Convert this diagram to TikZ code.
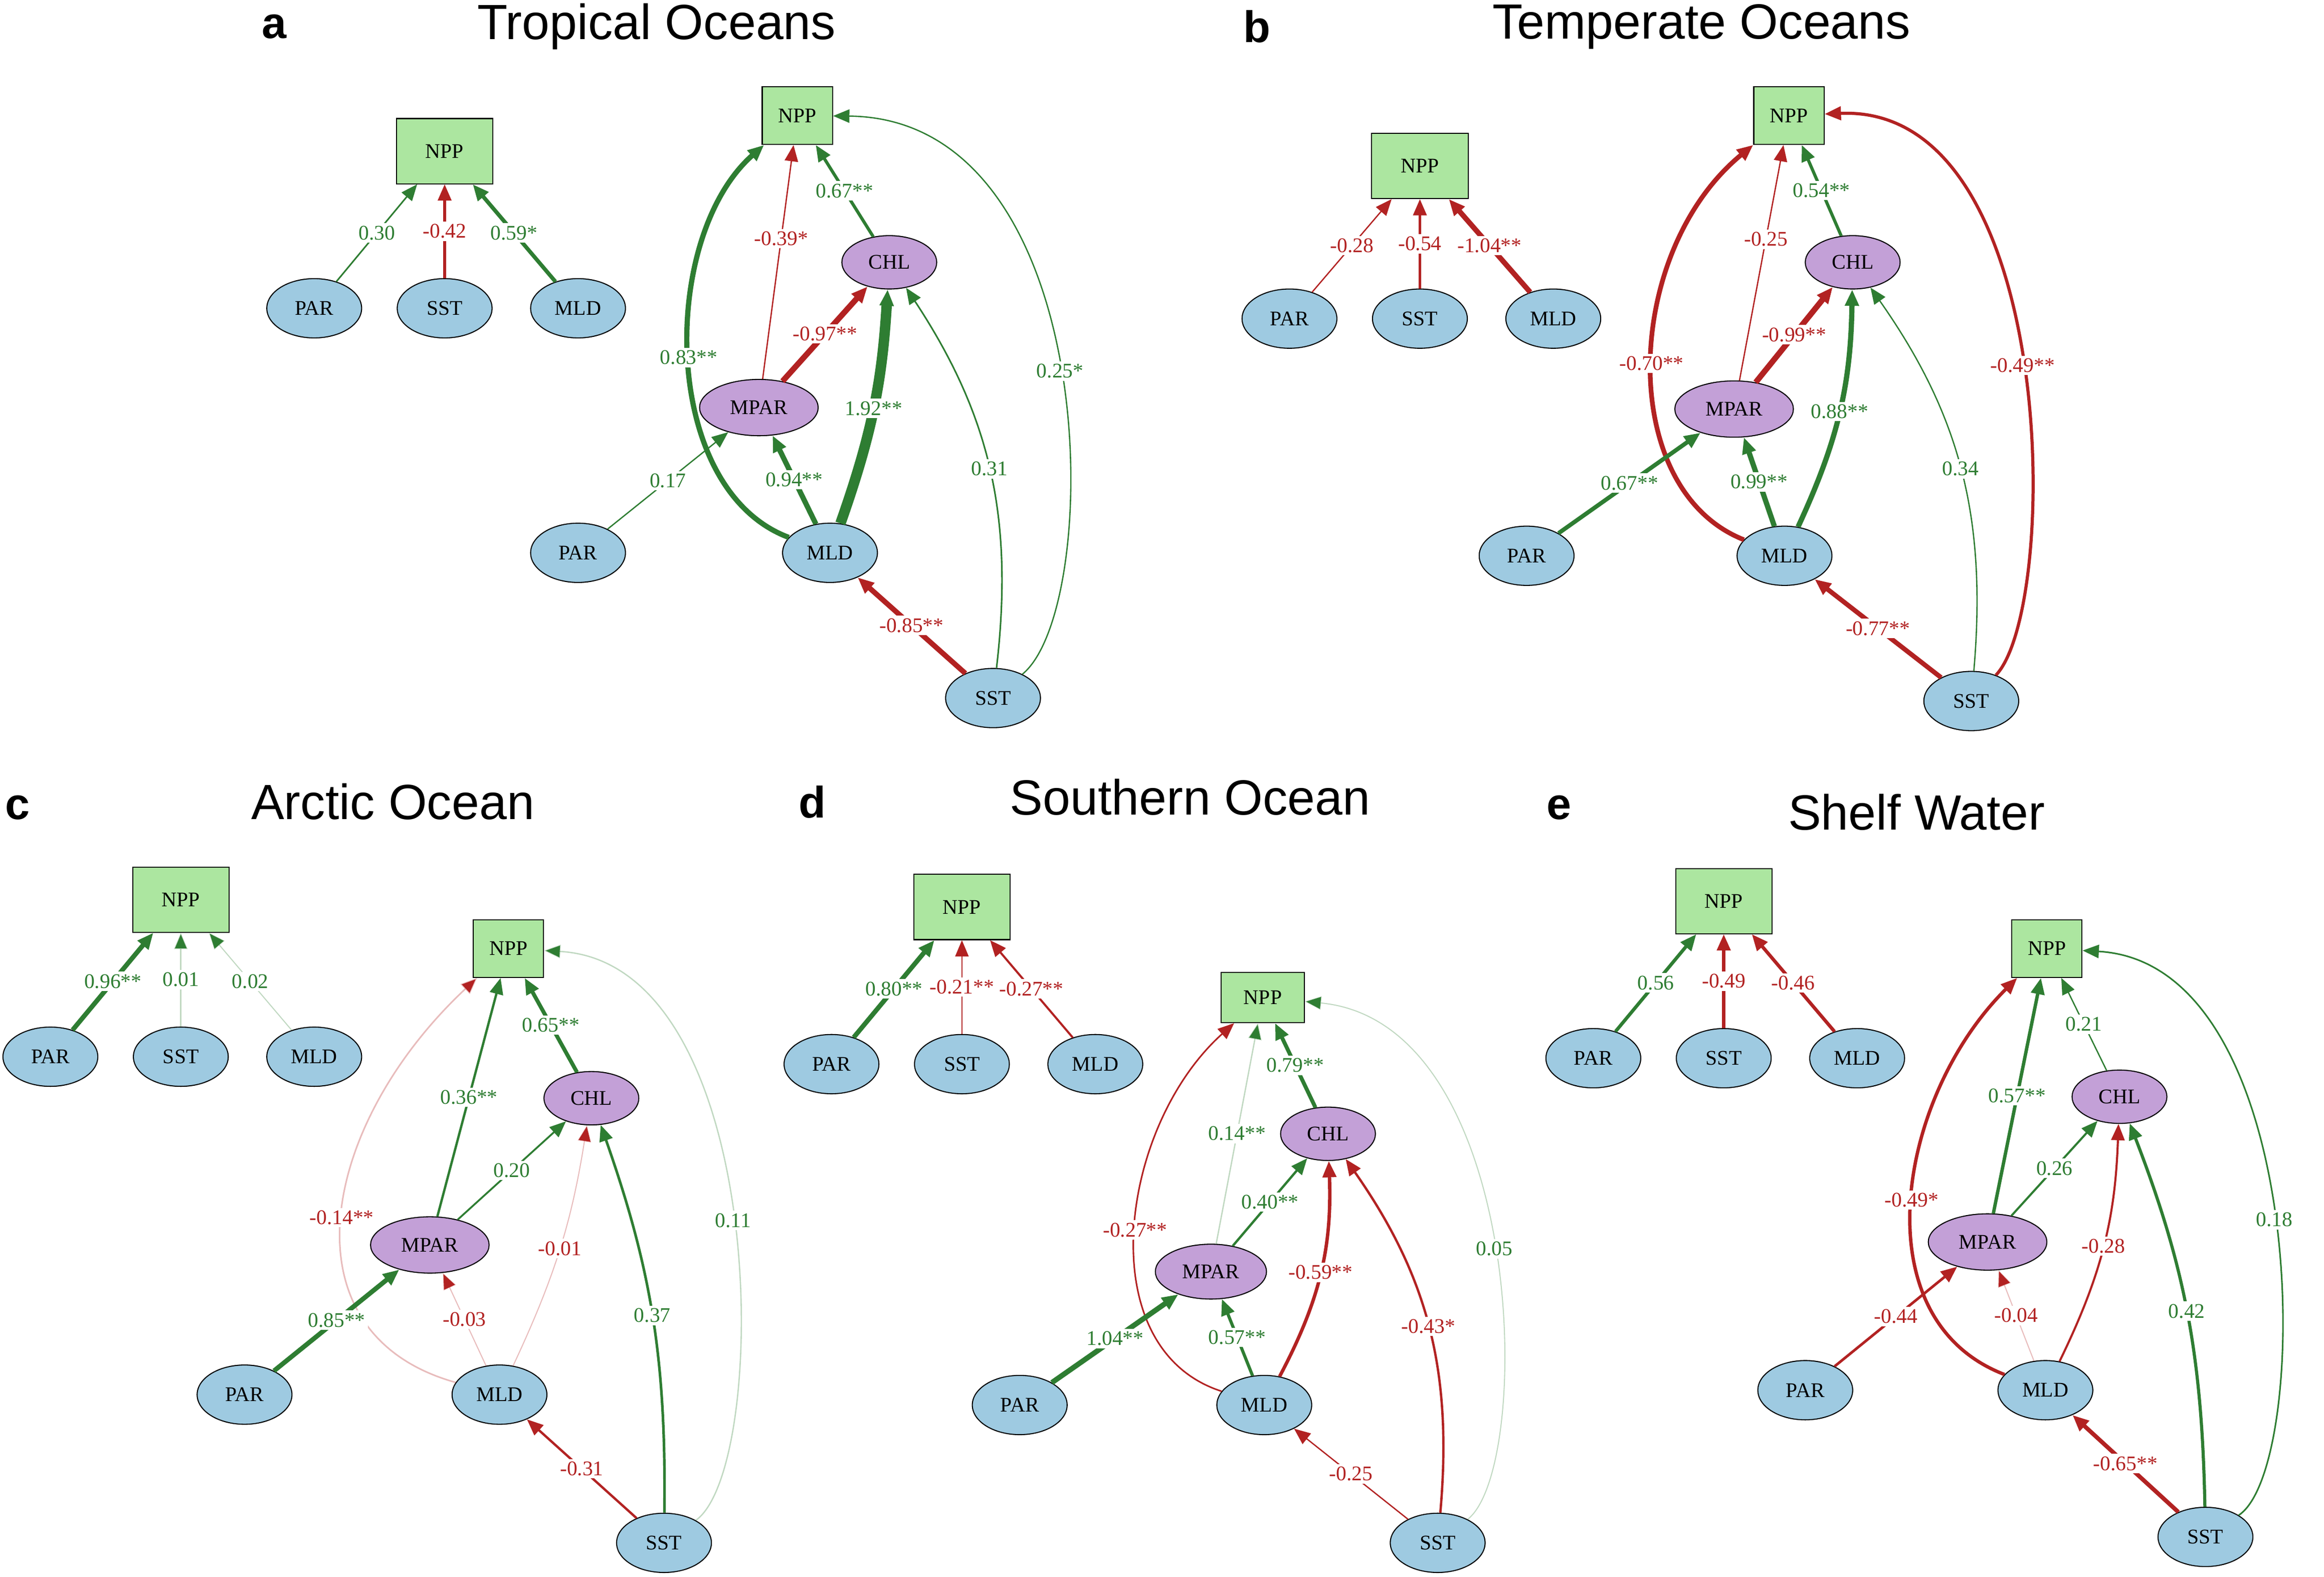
\documentclass[tikz,border=0pt]{standalone}
\usepackage{fontspec}
\setmainfont{Liberation Serif}
\newfontfamily\titlefont{Liberation Sans}
\usetikzlibrary{arrows.meta,shapes.geometric}
\definecolor{posc}{RGB}{46,125,50}
\definecolor{negc}{RGB}{178,34,34}
\definecolor{envc}{RGB}{158,202,225}
\definecolor{bioc}{RGB}{195,160,215}
\definecolor{nppc}{RGB}{172,230,160}
\tikzset{
  env/.style={ellipse,draw,fill=envc,minimum width=1.28cm,minimum height=0.8cm,inner sep=0pt,font=\footnotesize},
  bio/.style={ellipse,draw,fill=bioc,minimum width=1.28cm,minimum height=0.72cm,inner sep=0pt,font=\footnotesize},
  npp/.style={rectangle,draw,fill=nppc,minimum width=0.95cm,minimum height=0.78cm,inner sep=0pt,font=\footnotesize},
  gp/.style={draw=posc,text=posc,-{Triangle[length=0.22cm,width=0.18cm]}},
  rn/.style={draw=negc,text=negc,-{Triangle[length=0.22cm,width=0.18cm]}},
  lab/.style={fill=white,inner sep=1pt,font=\footnotesize,pos=0.5},
  ttl/.style={font=\titlefont\fontsize{19}{22}\selectfont},
  let/.style={font=\titlefont\bfseries\fontsize{17}{20}\selectfont},
  faint/.style={draw opacity=0.3}
}
\begin{document}
\begin{tikzpicture}[x=0.02cm,y=-0.02cm]
\useasboundingbox (0,0) rectangle (1568,1064);

% titles
\node[let] (la) at (185,18) {a};
\node[ttl] (ta) at (443,18) {Tropical Oceans};
\node[let] (lb) at (848,18) {b};
\node[ttl] (tb) at (1148,18) {Temperate Oceans};
\node[let] (lc) at (12,545) {c};
\node[ttl] (tc) at (265,541) {Arctic Ocean};
\node[let] (ld) at (548,541) {d};
\node[ttl] (td) at (803,538) {Southern Ocean};
\node[let] (le) at (1052,545) {e};
\node[ttl] (te) at (1293,548) {Shelf Water};

% total effects (left models)
\foreach \n/\x/\y/\t in {a/300/102/208, b/958/112/215, c/122/607/713, d/649/612/718, e/1163/608/714}{
  \node[npp,minimum width=1.3cm,minimum height=0.88cm] (\n1npp) at (\x,\y) {NPP};
  \node[env] (\n1par) at (\x-88,\t) {PAR};
  \node[env] (\n1sst) at (\x,\t) {SST};
  \node[env] (\n1mld) at (\x+90,\t) {MLD};
}
\draw[gp,line width=0.6pt] (a1par) -- node[lab]{0.30} (a1npp);
\draw[rn,line width=1pt] (a1sst) -- node[lab]{-0.42} (a1npp);
\draw[gp,line width=1.5pt] (a1mld) -- node[lab]{0.59*} (a1npp);
\draw[rn,line width=0.5pt] (b1par) -- node[lab]{-0.28} (b1npp);
\draw[rn,line width=1pt] (b1sst) -- node[lab]{-0.54} (b1npp);
\draw[rn,line width=2pt] (b1mld) -- node[lab]{-1.04**} (b1npp);
\draw[gp,line width=1.8pt] (c1par) -- node[lab]{0.96**} (c1npp);
\draw[gp,line width=0.5pt,faint] (c1sst) -- node[lab]{0.01} (c1npp);
\draw[gp,line width=0.4pt,faint] (c1mld) -- node[lab]{0.02} (c1npp);
\draw[gp,line width=1.8pt] (d1par) -- node[lab]{0.80**} (d1npp);
\draw[rn,line width=0.5pt] (d1sst) -- node[lab]{-0.21**} (d1npp);
\draw[rn,line width=0.8pt] (d1mld) -- node[lab]{-0.27**} (d1npp);
\draw[gp,line width=1.3pt] (e1par) -- node[lab]{0.56} (e1npp);
\draw[rn,line width=1.3pt] (e1sst) -- node[lab]{-0.49} (e1npp);
\draw[rn,line width=1.3pt] (e1mld) -- node[lab]{-0.46} (e1npp);

% path models (right)
\node[npp] (a2npp) at (538,78) {NPP};
\node[bio] (a2chl) at (600,177) {CHL};
\node[bio,minimum width=1.6cm,minimum height=0.76cm] (a2mpar) at (512,275) {MPAR};
\node[env] (a2par) at (390,373) {PAR};
\node[env] (a2mld) at (560,373) {MLD};
\node[env] (a2sst) at (670,471) {SST};
\draw[gp,line width=1.2pt] (a2chl) -- node[lab]{0.67**} (a2npp);
\draw[rn,line width=0.5pt] (a2mpar) -- node[lab,pos=0.6]{-0.39*} (a2npp);
\draw[rn,line width=2.2pt] (a2mpar) -- node[lab]{-0.97**} (a2chl);
\draw[gp,line width=2pt] (a2mld) .. controls (445,330) and (445,160) .. node[lab]{0.83**} (a2npp);
\draw[gp,line width=4pt] (a2mld) to[bend right=8] node[lab]{1.92**} (a2chl);
\draw[gp,line width=2pt] (a2mld) -- node[lab]{0.94**} (a2mpar);
\draw[gp,line width=0.5pt] (a2par) -- node[lab]{0.17} (a2mpar);
\draw[gp,line width=0.6pt] (a2sst) to[bend right=20] node[lab]{0.31} (a2chl);
\draw[gp,line width=0.5pt] (a2sst) .. controls (745,410) and (745,80) .. node[lab]{0.25*} (a2npp);
\draw[rn,line width=2pt] (a2sst) -- node[lab]{-0.85**} (a2mld);

\node[npp] (b2npp) at (1207,78) {NPP};
\node[bio] (b2chl) at (1250,177) {CHL};
\node[bio,minimum width=1.6cm,minimum height=0.76cm] (b2mpar) at (1170,276) {MPAR};
\node[env] (b2par) at (1030,375) {PAR};
\node[env] (b2mld) at (1204,375) {MLD};
\node[env] (b2sst) at (1330,473) {SST};
\draw[gp,line width=1.2pt] (b2chl) -- node[lab]{0.54**} (b2npp);
\draw[rn,line width=0.5pt] (b2mpar) -- node[lab,pos=0.6]{-0.25} (b2npp);
\draw[rn,line width=2.2pt] (b2mpar) -- node[lab]{-0.99**} (b2chl);
\draw[rn,line width=1.8pt] (b2mld) .. controls (1090,330) and (1095,170) .. node[lab]{-0.70**} (b2npp);
\draw[gp,line width=2pt] (b2mld) to[bend right=12] node[lab]{0.88**} (b2chl);
\draw[gp,line width=2pt] (b2mld) -- node[lab]{0.99**} (b2mpar);
\draw[gp,line width=1.6pt] (b2par) -- node[lab]{0.67**} (b2mpar);
\draw[gp,line width=0.5pt] (b2sst) to[bend right=20] node[lab]{0.34} (b2chl);
\draw[rn,line width=1.2pt] (b2sst) .. controls (1390,410) and (1390,70) .. node[lab]{-0.49**} (b2npp);
\draw[rn,line width=1.8pt] (b2sst) -- node[lab]{-0.77**} (b2mld);

\node[npp] (c2npp) at (343,640) {NPP};
\node[bio] (c2chl) at (399,741) {CHL};
\node[bio,minimum width=1.6cm,minimum height=0.76cm] (c2mpar) at (290,840) {MPAR};
\node[env] (c2par) at (165,941) {PAR};
\node[env] (c2mld) at (337,941) {MLD};
\node[env] (c2sst) at (448,1041) {SST};
\draw[gp,line width=1.5pt] (c2chl) -- node[lab]{0.65**} (c2npp);
\draw[gp,line width=0.9pt] (c2mpar) -- node[lab]{0.36**} (c2npp);
\draw[gp,line width=0.7pt] (c2mpar) -- node[lab]{0.20} (c2chl);
\draw[rn,line width=0.6pt,faint] (c2mld) .. controls (190,900) and (215,760) .. node[lab]{-0.14**} (c2npp);
\draw[rn,line width=0.4pt,faint] (c2mld) to[bend right=8] node[lab]{-0.01} (c2chl);
\draw[rn,line width=0.4pt,faint] (c2mld) -- node[lab]{-0.03} (c2mpar);
\draw[gp,line width=1.8pt] (c2par) -- node[lab]{0.85**} (c2mpar);
\draw[gp,line width=1pt] (c2sst) to[bend right=10] node[lab]{0.37} (c2chl);
\draw[gp,line width=0.5pt,faint] (c2sst) .. controls (520,990) and (520,650) .. node[lab]{0.11} (c2npp);
\draw[rn,line width=0.9pt] (c2sst) -- node[lab]{-0.31} (c2mld);

\node[npp,minimum width=1.12cm,minimum height=0.68cm] (d2npp) at (852,673) {NPP};
\node[bio] (d2chl) at (896,765) {CHL};
\node[bio,minimum width=1.5cm,minimum height=0.74cm] (d2mpar) at (817,858) {MPAR};
\node[env] (d2par) at (688,948) {PAR};
\node[env] (d2mld) at (853,948) {MLD};
\node[env] (d2sst) at (970,1041) {SST};
\draw[gp,line width=1.5pt] (d2chl) -- node[lab]{0.79**} (d2npp);
\draw[gp,line width=0.5pt,faint] (d2mpar) -- node[lab]{0.14**} (d2npp);
\draw[gp,line width=0.9pt] (d2mpar) -- node[lab]{0.40**} (d2chl);
\draw[rn,line width=0.6pt] (d2mld) .. controls (735,910) and (755,760) .. node[lab]{-0.27**} (d2npp);
\draw[rn,line width=1.3pt] (d2mld) to[bend right=15] node[lab]{-0.59**} (d2chl);
\draw[gp,line width=1.2pt] (d2mld) -- node[lab]{0.57**} (d2mpar);
\draw[gp,line width=2pt] (d2par) -- node[lab]{1.04**} (d2mpar);
\draw[rn,line width=0.9pt] (d2sst) to[bend right=20] node[lab]{-0.43*} (d2chl);
\draw[gp,line width=0.4pt,faint] (d2sst) .. controls (1035,990) and (1030,690) .. node[lab]{0.05} (d2npp);
\draw[rn,line width=0.5pt] (d2sst) -- node[lab]{-0.25} (d2mld);

\node[npp] (e2npp) at (1381,640) {NPP};
\node[bio] (e2chl) at (1430,740) {CHL};
\node[bio,minimum width=1.6cm,minimum height=0.76cm] (e2mpar) at (1341,838) {MPAR};
\node[env] (e2par) at (1218,938) {PAR};
\node[env] (e2mld) at (1380,938) {MLD};
\node[env] (e2sst) at (1488,1037) {SST};
\draw[gp,line width=0.5pt] (e2chl) -- node[lab]{0.21} (e2npp);
\draw[gp,line width=1.3pt] (e2mpar) -- node[lab]{0.57**} (e2npp);
\draw[gp,line width=0.8pt] (e2mpar) -- node[lab]{0.26} (e2chl);
\draw[rn,line width=1.3pt] (e2mld) .. controls (1255,890) and (1280,740) .. node[lab]{-0.49*} (e2npp);
\draw[rn,line width=0.8pt] (e2mld) to[bend right=12] node[lab]{-0.28} (e2chl);
\draw[rn,line width=0.4pt,faint] (e2mld) -- node[lab]{-0.04} (e2mpar);
\draw[rn,line width=1pt] (e2par) -- node[lab]{-0.44} (e2mpar);
\draw[gp,line width=1.2pt] (e2sst) to[bend right=10] node[lab]{0.42} (e2chl);
\draw[gp,line width=0.6pt] (e2sst) .. controls (1560,990) and (1560,650) .. node[lab]{0.18} (e2npp);
\draw[rn,line width=1.6pt] (e2sst) -- node[lab]{-0.65**} (e2mld);
\end{tikzpicture}
\end{document}
